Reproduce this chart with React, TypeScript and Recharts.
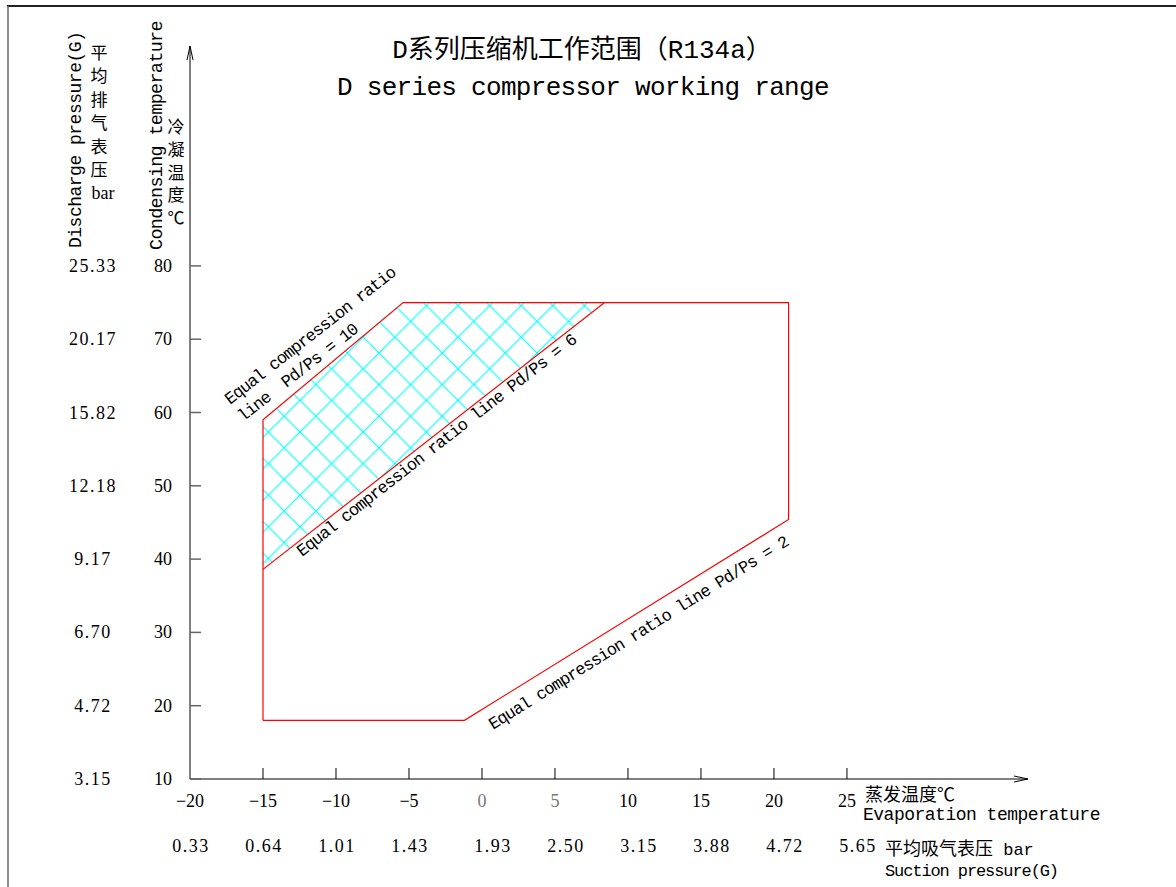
import React from "react";
import { ComposedChart, XAxis, YAxis, Line, Area } from "recharts";

// evaporation temperature (°C) and the matching suction pressure (bar G)
const evapTicks = [-20, -15, -10, -5, 0, 5, 10, 15, 20, 25];
const suctionPressure = ["0.33", "0.64", "1.01", "1.43", "1.93", "2.50", "3.15", "3.88", "4.72", "5.65"];

// condensing temperature (°C) and the matching discharge pressure (bar G)
const condTicks = [10, 20, 30, 40, 50, 60, 70, 80];
const dischargePressure = ["3.15", "4.72", "6.70", "9.17", "12.18", "15.82", "20.17", "25.33"];

// working envelope outline, walked around the polygon
const envelope = [
  { t: -15, c: 18 },
  { t: -1.2, c: 18 },
  { t: 21, c: 45.4 },
  { t: 21, c: 75 },
  { t: -5.4, c: 75 },
  { t: -15, c: 59 },
  { t: -15, c: 18 },
];

// Pd/Ps = 6 line across the envelope
const ratio6Line = [
  { t: -15, c: 38.6 },
  { t: 8.4, c: 75 },
];

// hatched band between Pd/Ps = 6 and Pd/Ps = 10 (low, high)
const hatchBand = [
  { t: -15, c: [38.6, 59] },
  { t: -5.4, c: [53.5, 75] },
  { t: 8.4, c: [75, 75] },
];

const MONO = "'Liberation Mono', 'Noto Sans CJK SC', monospace";
const SERIF = "'Liberation Serif', 'Noto Sans CJK SC', serif";
const CJK = "'Noto Sans CJK SC', sans-serif";

const fmt = (v: number) => (v < 0 ? `\u2212${-v}` : `${v}`);

function EvapTick({ x, y, payload }: any) {
  const v = payload.value as number;
  const i = evapTicks.indexOf(v);
  return (
    <g>
      {i > 0 && <line x1={x} y1={y} x2={x} y2={y - 11} stroke="#000" strokeWidth={1} />}
      <text x={x} y={y + 28} textAnchor="middle" fontFamily={SERIF} fontSize={18} fill={v === 0 || v === 5 ? "#777" : "#000"}>
        {fmt(v)}
      </text>
      <text x={x + (v >= 0 ? 11 : 1)} y={y + 73} textAnchor="middle" fontFamily={SERIF} fontSize={18} letterSpacing={1.5} fill="#000">
        {suctionPressure[i]}
      </text>
    </g>
  );
}

function CondTick({ x, y, payload }: any) {
  const v = payload.value as number;
  const i = condTicks.indexOf(v);
  return (
    <g>
      <line x1={x} y1={y} x2={x + 11} y2={y} stroke="#666" strokeWidth={1.5} />
      <text x={x - 18} y={y + 6} textAnchor="end" fontFamily={SERIF} fontSize={18} fill="#000">
        {v}
      </text>
      <text x={x - 97} y={y + 6} textAnchor="middle" fontFamily={SERIF} fontSize={18} letterSpacing={1.5} fill="#000">
        {dischargePressure[i]}
      </text>
    </g>
  );
}

function Overlay() {
  const discharge = ["平", "均", "排", "气", "表", "压"];
  const cond = ["冷", "凝", "温", "度", "℃"];
  const lbl = { fontFamily: MONO, fontSize: 17, letterSpacing: -1, fill: "#000", style: { whiteSpace: "pre" as const } };
  return (
    <svg width={1176} height={887} style={{ position: "absolute", left: 0, top: 0, pointerEvents: "none" }}>
      <line x1={7} y1={6} x2={1176} y2={6} stroke="#222" strokeWidth={2} />
      <line x1={8} y1={6} x2={8} y2={887} stroke="#666" strokeWidth={1.5} />

      <text x={582} y={58} textAnchor="middle" fontFamily={MONO} fontSize={26} fill="#000">
        D系列压缩机工作范围（R134a）
      </text>
      <text x={337} y={95} fontFamily={MONO} fontSize={26} letterSpacing={-0.7} fill="#000">
        D series compressor working range
      </text>

      <text x={81} y={248} transform="rotate(-90, 81, 248)" fontFamily={MONO} fontSize={18} letterSpacing={-0.5} fill="#000">
        Discharge pressure(G)
      </text>
      {discharge.map((ch, k) => (
        <text key={ch} x={99} y={59 + k * 23.4} textAnchor="middle" fontFamily={CJK} fontSize={17} fill="#000">
          {ch}
        </text>
      ))}
      <text x={103} y={199} textAnchor="middle" fontFamily={SERIF} fontSize={18} fill="#000">
        bar
      </text>

      <text x={162} y={250} transform="rotate(-90, 162, 250)" fontFamily={MONO} fontSize={18.5} letterSpacing={-0.7} fill="#000">
        Condensing temperature
      </text>
      {cond.map((ch, k) => (
        <text key={ch} x={176} y={133 + k * 22.8} textAnchor="middle" fontFamily={CJK} fontSize={17} fill="#000">
          {ch}
        </text>
      ))}

      <text x={865} y={801} fontFamily={CJK} fontSize={18} fill="#000">蒸发温度℃</text>
      <text x={863} y={820} fontFamily={MONO} fontSize={18} letterSpacing={-0.5} fill="#000">Evaporation temperature</text>
      <text x={885} y={855} fontFamily={MONO} fontSize={17} fill="#000">
        <tspan fontFamily={CJK} fontSize={18}>平均吸气表压</tspan> bar
      </text>
      <text x={885} y={876} fontFamily={MONO} fontSize={17} letterSpacing={-1.1} fill="#000">Suction pressure(G)</text>

      <text x={230} y={405} transform="rotate(-38, 230, 405)" {...lbl}>Equal compression ratio</text>
      <text x={243} y={422} transform="rotate(-38, 243, 422)" {...lbl}>line  Pd/Ps = 10</text>
      <text x={302} y={557} transform="rotate(-38, 302, 557)" {...lbl}>Equal compression ratio line Pd/Ps = 6</text>
      <text x={493} y={730} transform="rotate(-32, 493, 730)" {...lbl}>Equal compression ratio line Pd/Ps = 2</text>
    </svg>
  );
}

export default function App() {
  return (
    <div style={{ position: "absolute", left: 0, top: 0, width: 1176, height: 887, background: "#fff" }}>
      <ComposedChart width={1176} height={887} margin={{ top: 46, right: 148, bottom: 0, left: 0 }}>
        <defs>
          <pattern id="hatch" patternUnits="userSpaceOnUse" x={300} y={432} width={31.6} height={31.6}>
            <path d="M0,0 L31.6,31.6 M31.6,0 L0,31.6" stroke="#00ffff" strokeWidth={1.2} fill="none" />
          </pattern>
          <marker id="arrowHead" viewBox="0 0 14 8" refX={14} refY={4} markerWidth={14} markerHeight={8}
            markerUnits="userSpaceOnUse" orient="auto-start-reverse">
            <path d="M0,1 L14,4 L0,7" fill="none" stroke="#000" strokeWidth={1} />
          </marker>
        </defs>
        <XAxis
          dataKey="t"
          type="number"
          domain={[-20, 37.4]}
          allowDataOverflow
          ticks={evapTicks}
          interval={0}
          height={108}
          tickSize={0}
          tickMargin={0}
          tickLine={false}
          axisLine={{ stroke: "#000", strokeWidth: 1, markerEnd: "url(#arrowHead)" }}
          tick={<EvapTick />}
        />
        <YAxis
          type="number"
          domain={[10, 110]}
          allowDataOverflow
          ticks={condTicks}
          interval={0}
          width={190}
          tickSize={0}
          tickMargin={0}
          tickLine={false}
          axisLine={{ stroke: "#000", strokeWidth: 1, markerStart: "url(#arrowHead)" }}
          tick={<CondTick />}
        />
        <Area
          data={hatchBand}
          dataKey="c"
          type="linear"
          stroke="none"
          fill="url(#hatch)"
          fillOpacity={1}
          isAnimationActive={false}
          activeDot={false}
        />
        <Line
          data={envelope}
          dataKey="c"
          type="linear"
          stroke="#ff0000"
          strokeWidth={1.2}
          dot={false}
          activeDot={false}
          isAnimationActive={false}
        />
        <Line
          data={ratio6Line}
          dataKey="c"
          type="linear"
          stroke="#ff0000"
          strokeWidth={1.2}
          dot={false}
          activeDot={false}
          isAnimationActive={false}
        />
      </ComposedChart>
      <Overlay />
    </div>
  );
}
